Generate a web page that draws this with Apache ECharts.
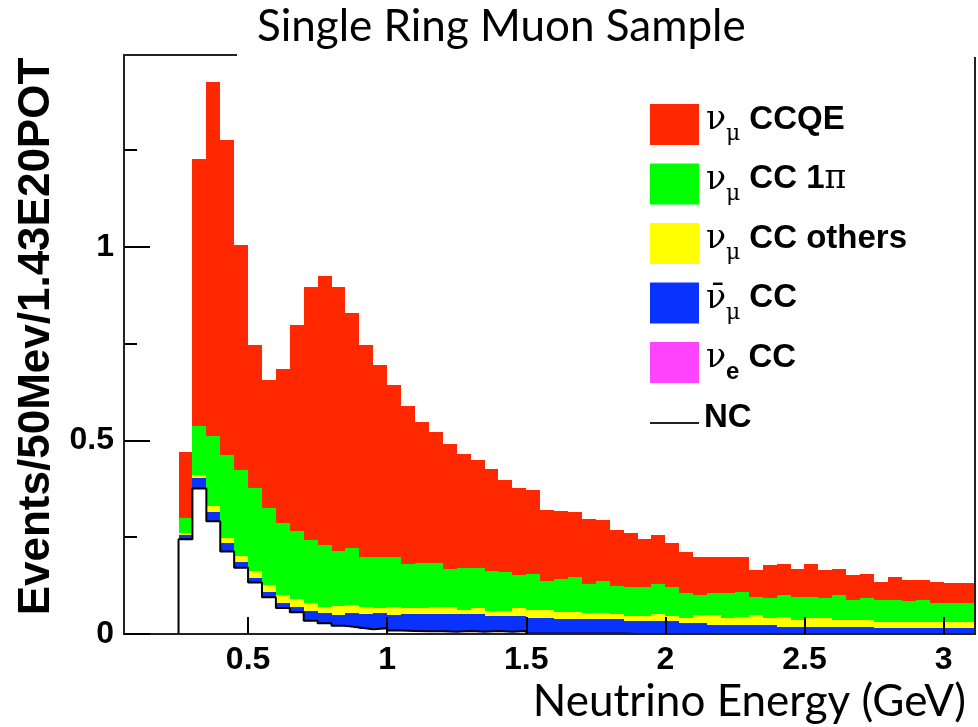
<!DOCTYPE html>
<html>
<head>
<meta charset="utf-8">
<title>Single Ring Muon Sample</title>
<script src="https://cdn.jsdelivr.net/npm/echarts@6/dist/echarts.min.js"></script>
<style>
  html, body { margin: 0; padding: 0; background: #fff; }
  #chart { width: 978px; height: 727px; }
</style>
</head>
<body>
<div id="chart"></div>
<script>
// 50 MeV bins starting at 0.25 GeV
var binStart = 0.25
var binWidth = 0.05

// per-bin contribution of each channel (events / 50 MeV / 1.43E20 POT)
var ncValues = [0.245, 0.376, 0.291, 0.213, 0.171, 0.133, 0.095, 0.067, 0.056, 0.034,
  0.028, 0.021, 0.017, 0.012, 0.015, 0.009, 0.008, 0.007, 0.007, 0.006,
  0.008, 0.006, 0.008, 0.006, 0.008, 0.001, 0.001, 0.001, 0.001, 0.001,
  0.001, 0.001, 0, 0, 0, 0, 0, 0, 0, 0,
  0, 0, 0, 0, 0, 0, 0, 0, 0, 0,
  0, 0, 0, 0, 0, 0, 0, 0]
var nueValues = [0.001, 0.001, 0.001, 0.001, 0.001, 0.001, 0.001, 0.001, 0.001, 0.001,
  0, 0, 0, 0, 0, 0, 0, 0, 0, 0,
  0, 0, 0, 0, 0, 0, 0, 0, 0, 0,
  0, 0, 0, 0, 0, 0, 0, 0, 0, 0,
  0, 0, 0, 0, 0, 0, 0, 0, 0, 0,
  0, 0, 0, 0, 0, 0, 0, 0]
var numubarValues = [0.009, 0.027, 0.023, 0.020, 0.013, 0.010, 0.013, 0.012, 0.014, 0.024,
  0.025, 0.028, 0.038, 0.039, 0.038, 0.040, 0.044, 0.044, 0.044, 0.045,
  0.043, 0.045, 0.039, 0.041, 0.039, 0.041, 0.041, 0.039, 0.037, 0.037,
  0.037, 0.037, 0.034, 0.034, 0.034, 0.034, 0.029, 0.028, 0.023, 0.023,
  0.023, 0.023, 0.023, 0.019, 0.019, 0.019, 0.019, 0.019, 0.019, 0.019,
  0.015, 0.015, 0.015, 0.015, 0.015, 0.015, 0.015, 0.015]
var ccOtherValues = [0.005, 0.007, 0.017, 0.013, 0.017, 0.020, 0.018, 0.020, 0.020, 0.021,
  0.017, 0.023, 0.020, 0.019, 0.015, 0.021, 0.015, 0.015, 0.020, 0.020,
  0.011, 0.015, 0.013, 0.013, 0.019, 0.020, 0.020, 0.018, 0.020, 0.017,
  0.017, 0.014, 0.013, 0.013, 0.018, 0.013, 0.013, 0.020, 0.025, 0.018,
  0.021, 0.025, 0.018, 0.026, 0.018, 0.022, 0.022, 0.018, 0.018, 0.018,
  0.017, 0.017, 0.017, 0.017, 0.017, 0.017, 0.017, 0.017]
var cc1piValues = [0.039, 0.126, 0.180, 0.216, 0.222, 0.212, 0.198, 0.186, 0.175, 0.163,
  0.161, 0.142, 0.146, 0.128, 0.130, 0.128, 0.115, 0.117, 0.113, 0.096,
  0.109, 0.105, 0.103, 0.099, 0.086, 0.093, 0.076, 0.084, 0.088, 0.074,
  0.082, 0.073, 0.074, 0.074, 0.077, 0.074, 0.063, 0.053, 0.057, 0.064,
  0.065, 0.048, 0.052, 0.056, 0.059, 0.055, 0.051, 0.064, 0.051, 0.055,
  0.056, 0.056, 0.052, 0.056, 0.047, 0.047, 0.047, 0.047]
var ccqeValues = [0.172, 0.691, 0.913, 0.813, 0.581, 0.372, 0.331, 0.399, 0.533, 0.653,
  0.694, 0.682, 0.608, 0.550, 0.496, 0.445, 0.406, 0.364, 0.337, 0.325,
  0.295, 0.279, 0.264, 0.240, 0.226, 0.218, 0.182, 0.177, 0.168, 0.169,
  0.157, 0.144, 0.139, 0.124, 0.126, 0.113, 0.106, 0.098, 0.094, 0.094,
  0.090, 0.069, 0.084, 0.080, 0.072, 0.085, 0.073, 0.067, 0.064, 0.064,
  0.046, 0.059, 0.055, 0.051, 0.055, 0.052, 0.052, 0.052]

var xTicks = [0.5, 1, 1.5, 2, 2.5, 3]
var yTicks = [0, 0.5, 1]
var yMinorTicks = [0.25, 0.75, 1.25]

var chart = echarts.init(document.getElementById('chart'))

// stacked channels, bottom to top (NC sits underneath as the white area)
var channels = [
  { name: 'νe CC', values: nueValues, color: '#ff44ff' },
  { name: 'ν̄μ CC', values: numubarValues, color: '#0a32ff' },
  { name: 'νμ CC others', values: ccOtherValues, color: '#ffff00' },
  { name: 'νμ CC 1π', values: cc1piValues, color: '#00ff00' },
  { name: 'νμ CCQE', values: ccqeValues, color: '#ff2800' }
]

var legendText = {
  'νμ CCQE': '{nu|ν}{sub|μ}{b|CCQE}',
  'νμ CC 1π': '{nu|ν}{sub|μ}{b|CC 1}{pi|π}',
  'νμ CC others': '{nu|ν}{sub|μ}{b|CC others}',
  'ν̄μ CC': '{nu|ν̄}{sub|μ}{b|CC}',
  'νe CC': '{nu|ν}{sube|e}{b|CC}',
  'NC': '{b|NC}'
}

function binLow(i) {
  return binStart + i * binWidth
}

function renderBin(params, api) {
  var p0 = api.coord([api.value(0), api.value(3)])
  var p1 = api.coord([api.value(1), api.value(2)])
  var x0 = Math.round(p0[0]), x1 = Math.round(p1[0])
  var y0 = Math.round(p0[1]), y1 = Math.round(p1[1])
  var shape = echarts.graphic.clipRectByRect(
    { x: x0, y: y0, width: x1 - x0, height: y1 - y0 },
    { x: params.coordSys.x, y: params.coordSys.y, width: params.coordSys.width, height: params.coordSys.height }
  )
  if (!shape) return
  return { type: 'rect', shape: shape, style: api.style({ stroke: null }) }
}

var series = []
var base = ncValues.slice()
channels.forEach(function (ch) {
  var data = []
  ch.values.forEach(function (v, i) {
    data.push([binLow(i), binLow(i) + binWidth, base[i], base[i] + v])
    base[i] += v
  })
  series.push({
    name: ch.name,
    type: 'custom',
    renderItem: renderBin,
    itemStyle: { color: ch.color },
    encode: { x: [0, 1], y: [2, 3] },
    data: data,
    z: 2
  })
})

// NC outline as a step line
var ncLine = [[binLow(0), 0]]
ncValues.forEach(function (v, i) {
  ncLine.push([binLow(i), v])
})
ncLine.push([binLow(ncValues.length), 0])
series.push({
  name: 'NC',
  type: 'line',
  step: 'end',
  data: ncLine,
  symbol: 'none',
  showSymbol: false,
  lineStyle: { color: '#000', width: 2 },
  itemStyle: { color: '#000' },
  z: 3
})

var tickFont = { fontFamily: 'Liberation Sans', fontWeight: 'bold', fontSize: 32, color: '#000' }
var plainFont = { fontFamily: 'Lato', fontWeight: 'normal', fontSize: 44, color: '#000' }

var option = {
  animation: false,
  backgroundColor: '#fff',
  title: [
    { text: 'Single Ring Muon Sample', left: 257, top: 5, padding: 0, z: 200, textStyle: plainFont },
    { text: 'Neutrino Energy (GeV)', right: 12, top: 680, padding: 0, z: 200, textStyle: plainFont }
  ],
  graphic: [
    // white box behind the title, covering the frame top
    { type: 'rect', left: 237, top: 0, shape: { width: 741, height: 57 }, style: { fill: '#fff' }, z: 100 }
  ],
  grid: {
    left: 124,
    right: 3,
    top: 55,
    bottom: 93,
    show: true,
    borderColor: '#222',
    borderWidth: 2,
    backgroundColor: 'transparent',
    z: 10
  },
  legend: {
    orient: 'vertical',
    left: 644,
    top: 98,
    itemWidth: 49,
    itemHeight: 41,
    itemGap: 17,
    selectedMode: false,
    data: [
      { name: 'νμ CCQE', icon: 'rect' },
      { name: 'νμ CC 1π', icon: 'rect' },
      { name: 'νμ CC others', icon: 'rect' },
      { name: 'ν̄μ CC', icon: 'rect' },
      { name: 'νe CC', icon: 'rect' },
      { name: 'NC', itemStyle: { color: 'rgba(0,0,0,0)', opacity: 0, borderWidth: 0 }, lineStyle: { color: '#222', width: 2 } }
    ],
    formatter: function (name) { return legendText[name] },
    textStyle: {
      fontFamily: 'Liberation Sans',
      fontWeight: 'bold',
      fontSize: 33,
      color: '#000',
      rich: {
        nu: { fontFamily: 'DejaVu Serif', fontWeight: 'normal', fontSize: 33, color: '#000', padding: [0, 0, 8, 2] },
        sub: { fontFamily: 'DejaVu Serif', fontWeight: 'normal', fontSize: 22, color: '#000', padding: [20, 9, 0, 0] },
        sube: { fontFamily: 'Liberation Sans', fontWeight: 'bold', fontSize: 24, color: '#000', padding: [20, 9, 0, 0] },
        b: { fontFamily: 'Liberation Sans', fontWeight: 'bold', fontSize: 33, color: '#000', padding: [0, 0, 10, 0] },
        pi: { fontFamily: 'DejaVu Serif', fontWeight: 'normal', fontSize: 33, color: '#000', padding: [0, 0, 10, 0] }
      }
    }
  },
  xAxis: {
    type: 'value',
    min: 0.054,
    max: 3.113,
    z: 10,
    axisLine: { show: true, onZero: false, lineStyle: { color: '#222', width: 2 } },
    axisTick: { show: true, inside: true, length: 17, customValues: xTicks, lineStyle: { color: '#000', width: 2 } },
    axisLabel: Object.assign({ customValues: xTicks, margin: 10 }, tickFont),
    splitLine: { show: false }
  },
  yAxis: [
    {
      type: 'value',
      min: 0,
      max: 1.496,
      z: 10,
      name: 'Events/50Mev/1.43E20POT',
      nameLocation: 'middle',
      nameRotate: 90,
      nameGap: 62,
      nameTextStyle: { fontFamily: 'Liberation Sans', fontWeight: 'bold', fontSize: 44, color: '#000', padding: [0, 0, 0, 16] },
      axisLine: { show: true, lineStyle: { color: '#222', width: 2 } },
      axisTick: { show: true, inside: true, length: 26, customValues: yTicks, lineStyle: { color: '#000', width: 2 } },
      axisLabel: Object.assign({ customValues: yTicks, margin: 10 }, tickFont),
      splitLine: { show: false }
    },
    {
      type: 'value',
      min: 0,
      max: 1.496,
      position: 'left',
      z: 10,
      axisLine: { show: false },
      axisTick: { show: true, inside: true, length: 13, customValues: yMinorTicks, lineStyle: { color: '#000', width: 2 } },
      axisLabel: { show: false },
      splitLine: { show: false }
    }
  ],
  series: series
}

chart.setOption(option)
</script>
</body>
</html>
